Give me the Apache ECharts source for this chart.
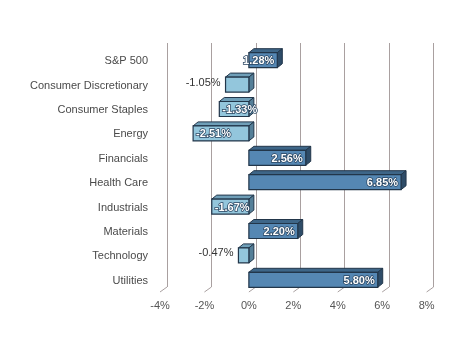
<!DOCTYPE html>
<html><head><meta charset="utf-8">
<script src="https://cdn.jsdelivr.net/npm/echarts@6/dist/echarts.min.js"></script>
<style>html,body{margin:0;padding:0;background:#fff}#c{width:467px;height:341px}</style>
</head><body><div id="c"></div>
<script>
var categories = ['S&P 500','Consumer Discretionary','Consumer Staples','Energy','Financials','Health Care','Industrials','Materials','Technology','Utilities'];
var values = [1.28,-1.05,-1.33,-2.51,2.56,6.85,-1.67,2.20,-0.47,5.80];
var tickValues = [-4,-2,0,2,4,6,8];

var DX = 7, DY = 6;           // chart depth offset
var BDX = 5, BDY = 4, BH = 15; // bar depth and height
var chart = echarts.init(document.getElementById('c'));

function barItem(params, api) {
  var v = api.value(1), i = api.value(0);
  var p0 = api.coord([0, i]), p1 = api.coord([v, i]);
  var xl = Math.min(p0[0], p1[0]), xr = Math.max(p0[0], p1[0]);
  var yt = p0[1] - BH / 2 - 1, yb = yt + BH;
  var pos = v >= 0;
  var front = pos ? '#5587b3' : '#93c6dc';
  var top = pos ? '#3e6688' : '#6f9fb8';
  var side = pos ? '#2e4c68' : '#557f98';
  var stroke = '#22364a';
  var txt = v.toFixed(2) + '%';
  var children = [
    {type:'polygon', shape:{points:[[xl,yt],[xl+BDX,yt-BDY],[xr+BDX,yt-BDY],[xr,yt]]}, style:{fill:top, stroke:stroke, lineWidth:1}},
    {type:'polygon', shape:{points:[[xr,yt],[xr+BDX,yt-BDY],[xr+BDX,yb-BDY],[xr,yb]]}, style:{fill:side, stroke:stroke, lineWidth:1}},
    {type:'rect', shape:{x:xl, y:yt, width:xr-xl, height:BH}, style:{fill:front, stroke:stroke, lineWidth:1.2}}
  ];
  var inside = Math.abs(v) >= 1.2;
  if (inside) {
    children.push({type:'text', style:{
      text: txt, x: pos ? xr - 3 : xl + 3, y: yt + BH/2 + 1,
      align: pos ? 'right' : 'left', verticalAlign:'middle',
      font:'bold 11px Arial, "Liberation Sans", sans-serif',
      fill:'#ffffff', stroke:'#2a4560', lineWidth:1.5
    }});
  } else {
    children.push({type:'text', style:{
      text: txt, x: xl - 5, y: yt + BH/2 - 2,
      align:'right', verticalAlign:'middle',
      font:'11px Arial, "Liberation Sans", sans-serif', fill:'#333333'
    }});
  }
  return {type:'group', children:children};
}

function tickItem(params, api) {
  var v = api.value(0);
  var cs = params.coordSys;
  var p = api.coord([v, 0]);
  var yb = cs.y + cs.height;
  return {type:'line', shape:{x1:p[0]+DX, y1:yb-DY, x2:p[0], y2:yb-1}, style:{stroke:'#a89f9f', lineWidth:1}};
}

var FL = 160, FW = 266.6, FT = 49, FB = 293;
chart.setOption({
  animation:false,
  grid:[
    {left:FL, width:FW, top:FT, height:FB-FT, containLabel:false},
    {left:FL+DX, width:FW, top:FT-DY, height:FB-FT, containLabel:false}
  ],
  xAxis:[
    {gridIndex:0, type:'value', min:tickValues[0], max:tickValues[tickValues.length-1], interval:2,
     axisLine:{show:false}, axisTick:{show:false}, splitLine:{show:false},
     axisLabel:{formatter:'{value}%', color:'#555', fontSize:11, fontFamily:'Arial', margin:7}},
    {gridIndex:1, type:'value', min:tickValues[0], max:tickValues[tickValues.length-1], interval:2,
     axisLine:{show:false}, axisTick:{show:false}, axisLabel:{show:false},
     splitLine:{show:true, lineStyle:{color:'#a9a0a0', width:1}}}
  ],
  yAxis:[
    {gridIndex:0, type:'category', data:categories, inverse:true,
     axisLine:{show:false}, axisTick:{show:false}, splitLine:{show:false},
     axisLabel:{color:'#4a4a4a', fontSize:11, fontFamily:'Arial', margin:12}},
    {gridIndex:1, type:'category', data:categories, inverse:true, show:false}
  ],
  series:[
    {type:'custom', xAxisIndex:0, yAxisIndex:0, renderItem:tickItem, data:tickValues.map(function(t){return [t];}), silent:true},
    {type:'custom', xAxisIndex:0, yAxisIndex:0, renderItem:barItem,
     encode:{x:1, y:0},
     data:values.map(function(v,i){return [i, v];}), silent:true}
  ]
});
</script></body></html>
